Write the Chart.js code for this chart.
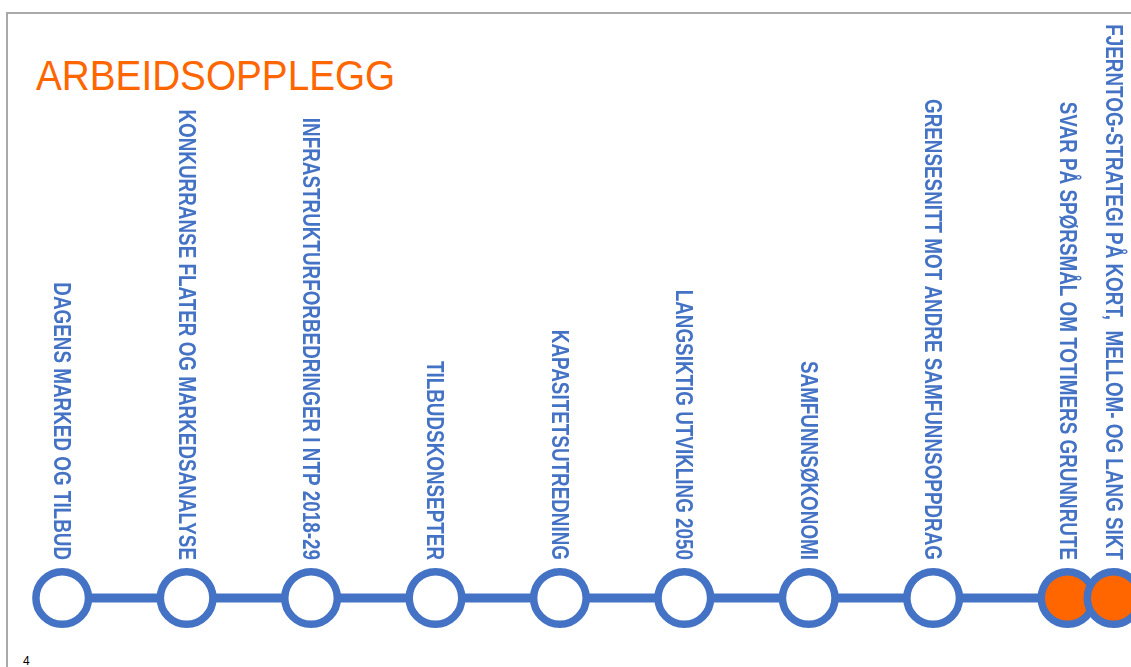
<!DOCTYPE html>
<html>
<head>
<meta charset="utf-8">
<script src="https://cdn.jsdelivr.net/npm/chart.js@4.4.1/dist/chart.umd.min.js"></script>
<style>
  html, body { margin: 0; padding: 0; background: #fff; }
  body { width: 1131px; height: 667px; position: relative; overflow: hidden; }
  #frame {
    position: absolute; left: 6px; top: 12px; right: -10px; bottom: -10px;
    border-top: 2px solid #a9a9a9; border-left: 2px solid #a9a9a9;
  }
  #title {
    position: absolute; left: 36px; top: 50px;
    font-family: "Liberation Sans", Arial, sans-serif; font-size: 43px;
    color: #ff6600; line-height: 50px; white-space: nowrap;
    transform: scaleX(0.9); transform-origin: left top;
  }
  #page-no {
    position: absolute; left: 23px; top: 654px;
    font-family: "Liberation Sans", Arial, sans-serif; font-size: 12px; color: #000;
  }
  #timeline { position: absolute; left: 0; top: 0; }
</style>
</head>
<body>
<div id="frame"></div>
<div id="title">ARBEIDSOPPLEGG</div>
<div id="page-no">4</div>
<canvas id="timeline" width="1131" height="667"></canvas>
<script>
// Milestones of the work plan, left to right
const milestones = [
  'DAGENS MARKED OG TILBUD',
  'KONKURRANSE FLATER OG MARKEDSANALYSE',
  'INFRASTRUKTURFORBEDRINGER I NTP 2018-29',
  'TILBUDSKONSEPTER',
  'KAPASITETSUTREDNING',
  'LANGSIKTIG UTVIKLING 2050',
  'SAMFUNNSØKONOMI',
  'GRENSESNITT MOT ANDRE SAMFUNNSOPPDRAG',
  'SVAR PÅ SPØRSMÅL OM TOTIMERS GRUNNRUTE',
  'FJERNTOG-STRATEGI PÅ KORT,  MELLOM- OG LANG SIKT',
];
// Position of each milestone along the timeline (step units)
const steps = [1, 2, 3, 4, 5, 6, 7, 8, 9.08, 9.45];
// Milestones currently in focus (filled orange)
const current = [false, false, false, false, false, false, false, false, true, true];

const blue = '#4472c4';
const orange = '#ff6600';

// Draws each milestone name rotated above its circle (narrowed bold font)
const milestoneLabels = {
  id: 'milestoneLabels',
  afterDatasetsDraw(chart) {
    const { ctx } = chart;
    const points = chart.getDatasetMeta(0).data;
    ctx.save();
    ctx.fillStyle = blue;
    ctx.font = 'bold 23px "Liberation Sans", Arial, sans-serif';
    ctx.textAlign = 'right';
    ctx.textBaseline = 'alphabetic';
    points.forEach((point, i) => {
      ctx.save();
      ctx.translate(point.x, 560);
      ctx.rotate(Math.PI / 2);
      ctx.scale(0.82, 1);
      ctx.fillText(milestones[i], 0, 8);
      ctx.restore();
    });
    ctx.restore();
  },
};

new Chart(document.getElementById('timeline'), {
  type: 'line',
  data: {
    datasets: [
      {
        data: steps.map((step) => ({ x: step, y: 0 })),
        borderColor: blue,
        borderWidth: 9,
        pointRadius: 26.3,
        pointBorderWidth: 7.5,
        pointBorderColor: blue,
        pointBackgroundColor: current.map((c) => (c ? orange : '#ffffff')),
        clip: false,
      },
    ],
  },
  options: {
    responsive: false,
    animation: false,
    devicePixelRatio: 1,
    events: [],
    layout: { autoPadding: false, padding: { top: 548, bottom: 19, left: 0, right: 0 } },
    scales: {
      x: { type: 'linear', min: 0.5, max: 9.59, display: false },
      y: { min: -1, max: 1, display: false },
    },
    plugins: {
      legend: { display: false },
      tooltip: { enabled: false },
    },
  },
  plugins: [milestoneLabels],
});
</script>
</body>
</html>
